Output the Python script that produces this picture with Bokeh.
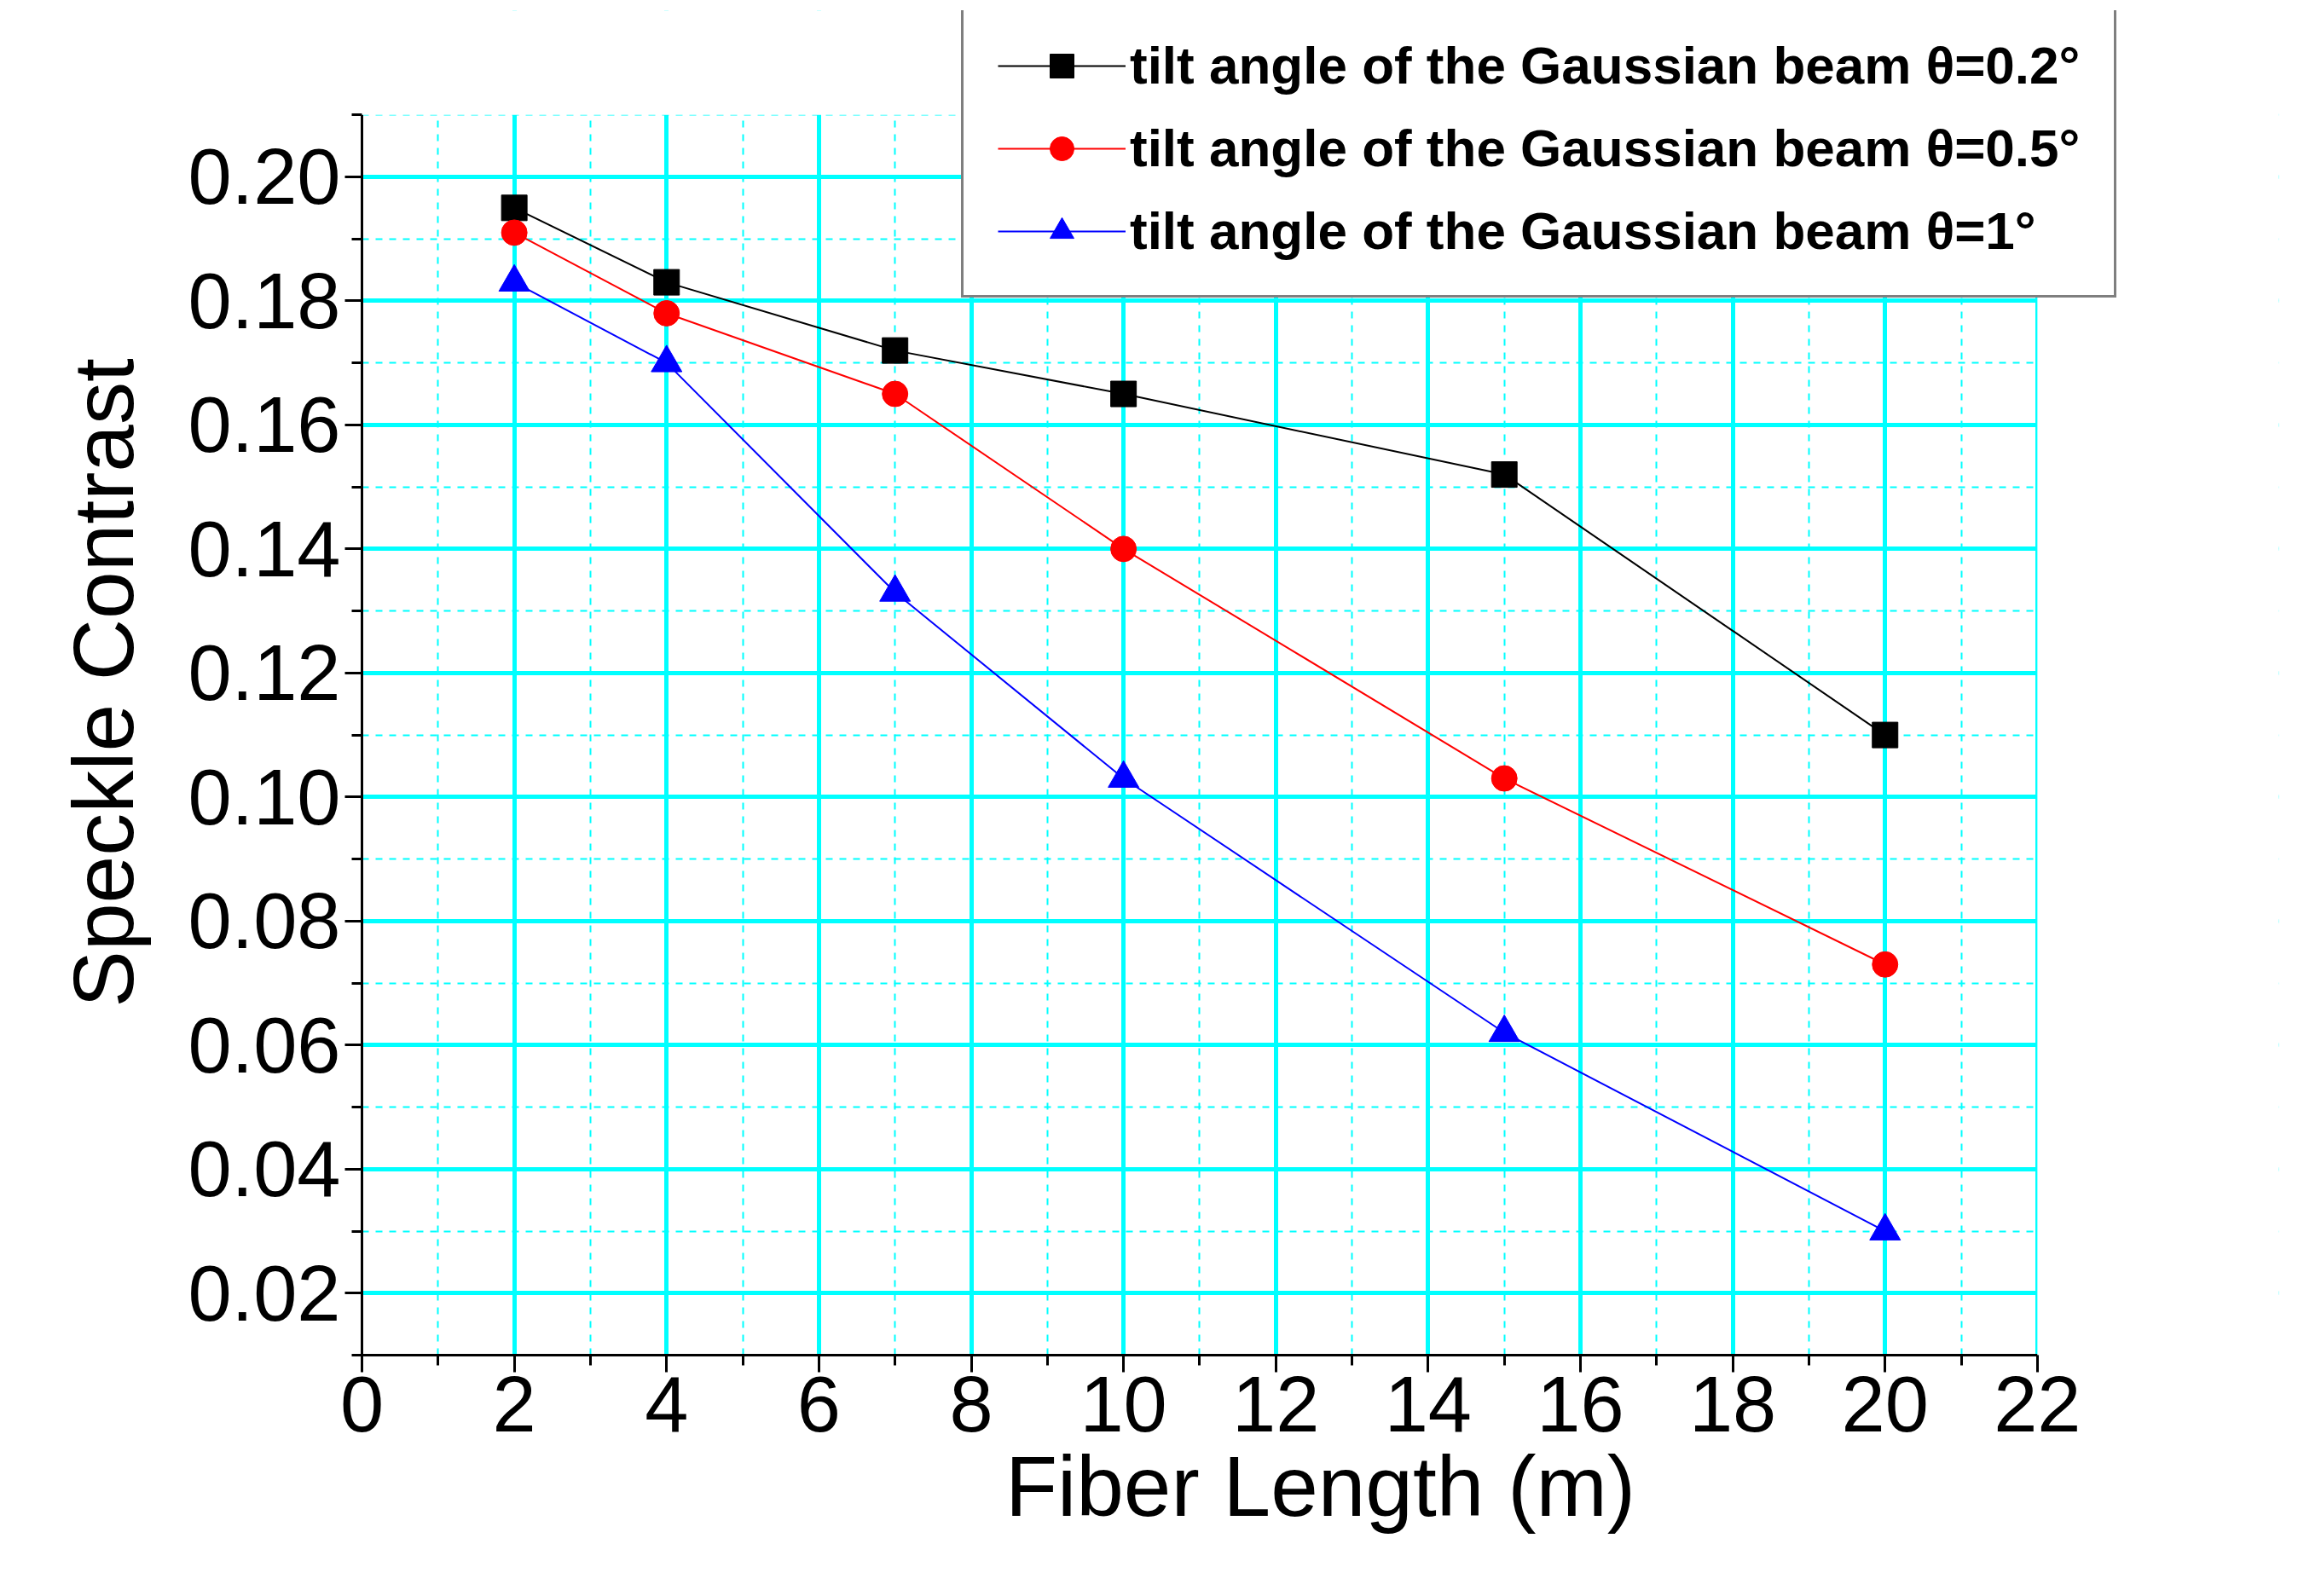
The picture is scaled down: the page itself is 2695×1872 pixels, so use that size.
from bokeh.plotting import figure
from bokeh.models import Legend, LegendItem, FixedTicker, Range1d, NumeralTickFormatter, BoxAnnotation
from bokeh.embed import file_html
from bokeh.resources import INLINE

x = [2, 4, 7, 10, 15, 20]
s02 = [0.195, 0.183, 0.172, 0.165, 0.152, 0.110]
s05 = [0.191, 0.178, 0.165, 0.140, 0.103, 0.073]
s1 = [0.183, 0.170, 0.133, 0.103, 0.062, 0.030]
labels = ["tilt angle of the Gaussian beam \u03b8=0.2\u00b0",
          "tilt angle of the Gaussian beam \u03b8=0.5\u00b0",
          "tilt angle of the Gaussian beam \u03b8=1\u00b0"]

W, H = 2680, 1850
p = figure(width=W, height=H, output_backend="svg", toolbar_location=None,
           x_range=Range1d(0, 25.17), y_range=Range1d(0.01, 0.2268),
           min_border_left=424, min_border_top=12, min_border_right=8, min_border_bottom=261)
p.outline_line_color = None
FONT = "Liberation Sans"

p.xaxis.ticker = FixedTicker(ticks=list(range(0, 23, 2)), minor_ticks=list(range(0, 23)))
p.yaxis.ticker = FixedTicker(ticks=[0.02 * i for i in range(1, 11)],
                             minor_ticks=[0.01 * i for i in range(1, 22)])
p.xaxis.bounds = (0, 22)
p.yaxis.bounds = (0.01, 0.21)
p.yaxis.formatter = NumeralTickFormatter(format="0.00")
for ax in (p.xaxis, p.yaxis):
    ax.axis_line_width = 3
    ax.axis_line_color = "black"
    ax.major_tick_line_width = 3
    ax.minor_tick_line_width = 3
    ax.major_tick_out = 20
    ax.major_tick_in = 0
    ax.minor_tick_out = 12
    ax.major_label_text_font = FONT
    ax.major_label_text_font_size = "92px"
    ax.major_label_text_color = "black"
    ax.axis_label_text_font = FONT
    ax.axis_label_text_font_size = "100px"
    ax.axis_label_text_font_style = "normal"
    ax.axis_label_text_color = "black"
p.yaxis.axis_label_standoff = 40
p.xaxis.axis_label = "Fiber Length (m)"
p.yaxis.axis_label = "Speckle Contrast"

for g in (p.xgrid, p.ygrid):
    g.grid_line_color = "#00ffff"
    g.grid_line_width = 5
    g.minor_grid_line_color = "#00ffff"
    g.minor_grid_line_width = 2
    g.minor_grid_line_dash = "8 8"

p.add_layout(BoxAnnotation(bottom=0.21, fill_color="white", fill_alpha=1, line_color=None))
p.add_layout(BoxAnnotation(left=22, fill_color="white", fill_alpha=1, line_color=None))

l1 = p.line(x, s02, color="black", line_width=2)
m1 = p.scatter(x, s02, marker="square", size=30, color="black")
l2 = p.line(x, s05, color="red", line_width=2)
m2 = p.scatter(x, s05, marker="circle", size=30, color="red")
l3 = p.line(x, s1, color="blue", line_width=2)
m3 = p.scatter(x, s1, marker="triangle", size=36, color="blue")

legend = Legend(items=[LegendItem(label=labels[0], renderers=[l1, m1]),
                       LegendItem(label=labels[1], renderers=[l2, m2]),
                       LegendItem(label=labels[2], renderers=[l3, m3])],
                location=(703, 1240), border_line_color="black", border_line_width=3,
                label_text_font=FONT, label_text_font_size="62px", label_text_font_style="bold",
                label_text_color="black",
                glyph_width=150, glyph_height=70, spacing=26, padding=40, margin=0,
                background_fill_alpha=1.0)
p.add_layout(legend, "center")

open("out.html", "w").write(file_html(p, INLINE))
